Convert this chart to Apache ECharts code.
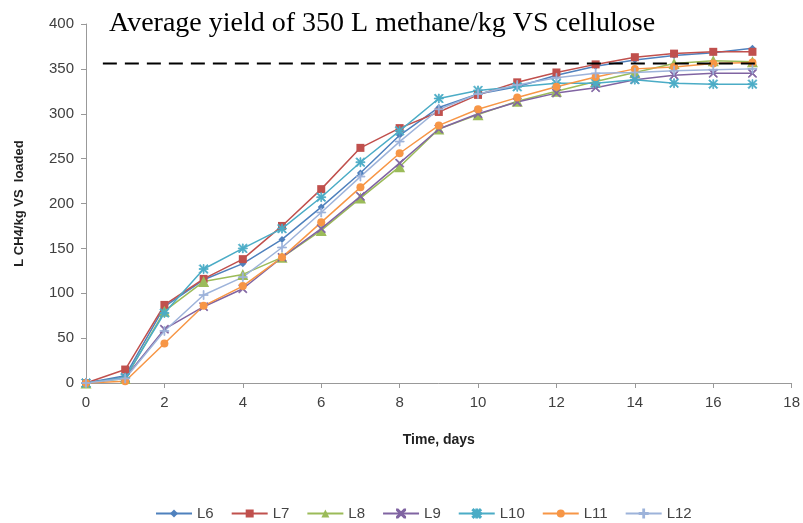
<!DOCTYPE html>
<html><head><meta charset="utf-8">
<script src="https://cdn.jsdelivr.net/npm/echarts@6/dist/echarts.min.js"></script>
<style>html,body{margin:0;padding:0;background:#fff}#c{width:803px;height:523px}</style>
</head><body><div id="c"></div>
<script>
const days = [0,1,2,3,4,5,6,7,8,9,10,11,12,13,14,15,16,17];
const L6  = [0,8,85,115,133,160,196,234,276,307,322,330,343,353,360,365,368,373];
const L7  = [0,15,87,116,138,175,216,262,284,302,321,335,346,355,363,367,369,369];
const L8  = [0,5,80,113,121,140,170,206,241,283,299,314,325,336,346,356,359,358];
const L9  = [0,6,60,85,105,140,172,208,245,283,300,313,323,329,338,343,345,345];
const L10 = [0,6,78,127,150,172,207,246,281,317,326,330,334,334,338,334,333,333];
const L11 = [0,2,44,86,108,140,179,218,256,287,305,318,330,341,350,352,356,357];
const L12 = [0,5,58,98,118,151,190,230,269,305,322,332,340,345,346,348,349,350];
const seriesNames = ['L6','L7','L8','L9','L10','L11','L12'];
const seriesData = [L6,L7,L8,L9,L10,L11,L12];
const avgLineY = 356;
const avgLineX = [0.43, 17.1];

const colors = ['#4F81BD','#C0504D','#9BBB59','#8064A2','#4BACC6','#F79646','#9DB3DA'];
const symbols = [
  'diamond','rect','triangle',
  'path://M0,0 L1,0 L10,9 L10,10 L9,10 L0,1 Z M10,0 L10,1 L1,10 L0,10 L0,9 L9,0 Z',
  'path://M4.5,0 L5.5,0 L5.5,10 L4.5,10 Z M0,1 L1,0 L10,9 L9,10 Z M10,1 L9,0 L0,9 L1,10 Z M0,4.5 L10,4.5 L10,5.5 L0,5.5 Z',
  'circle',
  'path://M4.5,0 L5.5,0 L5.5,10 L4.5,10 Z M0,4.5 L10,4.5 L10,5.5 L0,5.5 Z'
];
const sizes = [7,8,11,8,9,8,9];

const series = seriesNames.map((n,i)=>({
  name:n, type:'line', data: days.map((d,j)=>[d, seriesData[i][j]]),
  symbol: symbols[i], symbolSize: sizes[i], showAllSymbol:true,
  lineStyle:{width:1.5, color:colors[i]},
  itemStyle:{color:colors[i], borderWidth: (i===3||i===4||i===6)?0.8:0, borderColor:colors[i]},
  emphasis:{disabled:true}, animation:false, z: 2
}));
series.push({
  name:'avg', type:'line', data: avgLineX.map(x=>[x, avgLineY]), symbol:'none',
  lineStyle:{color:'#000', width:2, type:[14,8]}, animation:false, z:3, silent:true
});

const chart = echarts.init(document.getElementById('c'), null, {renderer:'canvas'});
chart.setOption({
  animation:false,
  title:{text:'Average yield of 350 L methane/kg VS cellulose', left:104, top:5,
    textStyle:{fontFamily:'Liberation Serif', fontSize:28, fontWeight:'normal', color:'#000'}},
  grid:{left:86, right:8, top:24, bottom:140, containLabel:false},
  legend:{data:seriesNames, bottom:-3, left:150, itemWidth:36, itemHeight:10, itemGap:17,
    textStyle:{fontFamily:'Liberation Sans', fontSize:15, color:'#444'}},
  xAxis:{type:'value', min:0, max:18, interval:2, name:'Time, days', nameLocation:'middle', nameGap:50,
    nameTextStyle:{fontFamily:'Liberation Sans', fontWeight:'bold', fontSize:14, color:'#222'},
    axisLine:{lineStyle:{color:'#999'}}, axisTick:{show:true, length:5, lineStyle:{color:'#999'}},
    splitLine:{show:false},
    axisLabel:{fontFamily:'Liberation Sans', fontSize:15, color:'#404040', margin:12}},
  yAxis:{type:'value', min:0, max:400, interval:50, name:'L CH4/kg VS  loaded', nameLocation:'middle', nameGap:60,
    nameRotate:90,
    nameTextStyle:{fontFamily:'Liberation Sans', fontWeight:'bold', fontSize:13, color:'#222'},
    axisLine:{show:true, lineStyle:{color:'#999'}}, axisTick:{show:true, length:5, lineStyle:{color:'#999'}},
    splitLine:{show:false},
    axisLabel:{fontFamily:'Liberation Sans', fontSize:15, color:'#404040', margin:12}},
  series: series
});
</script></body></html>
